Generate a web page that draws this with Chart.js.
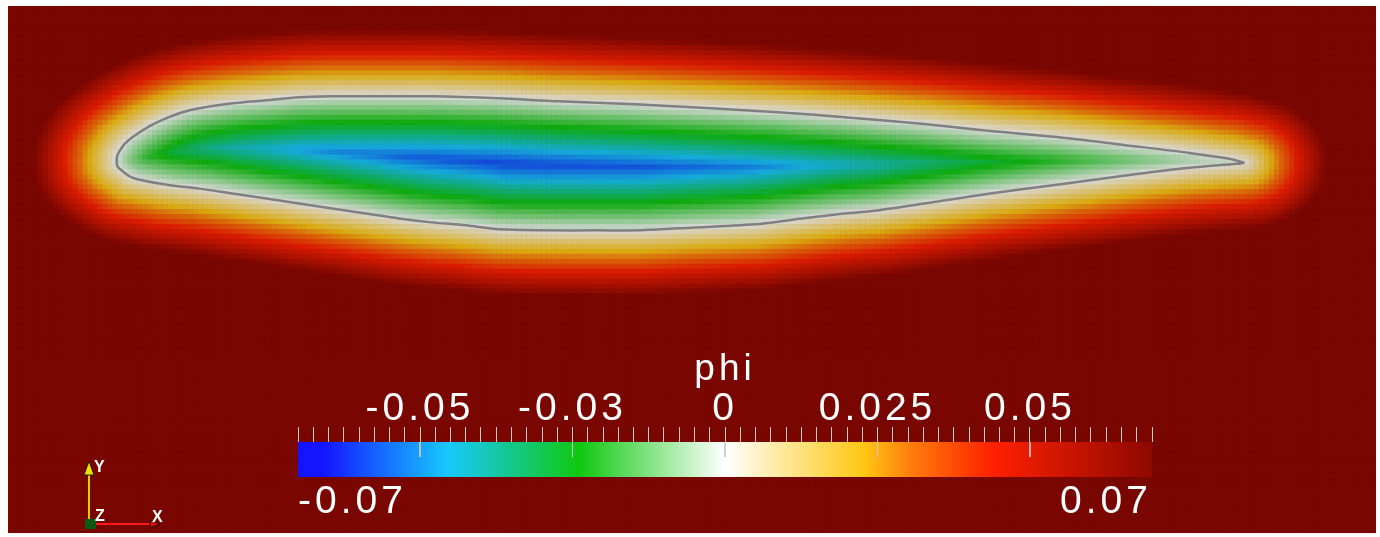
<!DOCTYPE html>
<html>
<head>
<meta charset="utf-8">
<script src="https://cdn.jsdelivr.net/npm/chart.js@4.4.0/dist/chart.umd.min.js"></script>
<style>
  html, body { margin: 0; padding: 0; background: #fff; overflow: hidden; }
  #wrap { position: relative; width: 1380px; height: 537px; }
  #field { position: absolute; left: 0; top: 0; }
  #bar { position: absolute; left: 248px; top: 330px; }
</style>
</head>
<body>
<div id="wrap">
  <canvas id="field" width="1380" height="537"></canvas>
  <canvas id="bar" width="954" height="207"></canvas>
</div>
<script>
// airfoil outline, leading edge -> trailing edge (chord along x)
const upperX = [0, 0.0005, 0.003, 0.008, 0.016, 0.033, 0.05, 0.066, 0.083, 0.116, 0.15, 0.183, 0.216, 0.25, 0.316, 0.383, 0.443, 0.52, 0.596, 0.663, 0.73, 0.81, 0.876, 0.943, 1.01, 1.076, 1.116, 1.131];
const upperY = [0.001, 0.006, 0.011, 0.018, 0.025, 0.036, 0.044, 0.05, 0.054, 0.059, 0.062, 0.065, 0.066, 0.066, 0.066, 0.064, 0.061, 0.058, 0.054, 0.05, 0.045, 0.038, 0.031, 0.025, 0.017, 0.009, 0.003, -0.001];
const lowerX = [0, 0.0005, 0.003, 0.016, 0.05, 0.083, 0.116, 0.15, 0.183, 0.216, 0.25, 0.283, 0.316, 0.35, 0.383, 0.426, 0.483, 0.526, 0.563, 0.64, 0.68, 0.73, 0.763, 0.81, 0.876, 0.943, 1.01, 1.076, 1.123, 1.131];
const lowerY = [0.001, -0.004, -0.007, -0.016, -0.023, -0.027, -0.032, -0.037, -0.042, -0.047, -0.052, -0.057, -0.061, -0.064, -0.068, -0.069, -0.069, -0.069, -0.067, -0.063, -0.058, -0.052, -0.049, -0.042, -0.032, -0.023, -0.014, -0.006, -0.002, -0.001];

// colour map for phi
const mapValues = [-0.07, -0.066, -0.0455, -0.024, 0, 0.0225, 0.031, 0.044, 0.07];
const mapColors = ['#1414ff', '#1414ff', '#19c8ff', '#10c810', '#ffffff', '#ffc814', '#ff780c', '#ff2000', '#8e0800'];

// scalar bar labels
const barTicks = [-0.05, -0.025, 0, 0.025, 0.05];
const barTickLabels = ['-0.05', '-0.03', '0', '0.025', '0.05'];
const rangeLabels = ['-0.07', '0.07'];

const PHI_MIN = -0.07, PHI_MAX = 0.07;
const MINOR_STEP = 0.0025;
const X_MIN = -0.109, X_MAX = 1.263, Y_MIN = -0.374, Y_MAX = 0.157;
const CELL = 0.005;
const SHADE = 0.85;          // surface lighting
const IN_SCALE = 0.9, OUT_SCALE = 1.05;
const DIST_WX = 0.8;         // the level set spreads wider along the chord

// closed contour starting and ending at the trailing edge
const outline = upperX.map((x, i) => ({ x, y: upperY[i] })).reverse()
  .concat(lowerX.map((x, i) => ({ x, y: lowerY[i] })).slice(1));
const scaledOutline = outline.map(p => ({ x: p.x * DIST_WX, y: p.y }));

const mapRgb = mapColors.map(h => [1, 3, 5].map(k => parseInt(h.slice(k, k + 2), 16)));

function phiColor(v, shade) {
  v = Math.max(PHI_MIN, Math.min(PHI_MAX, v));
  let i = 1;
  while (i < mapValues.length - 1 && v > mapValues[i]) i++;
  const t = (v - mapValues[i - 1]) / (mapValues[i] - mapValues[i - 1]);
  const a = mapRgb[i - 1], b = mapRgb[i];
  const c = a.map((ch, k) => Math.round((ch + (b[k] - ch) * t) * shade));
  return 'rgb(' + c.join(',') + ')';
}

function segDist(px, py, a, b) {
  const dx = b.x - a.x, dy = b.y - a.y;
  const len = dx * dx + dy * dy;
  let t = len ? ((px - a.x) * dx + (py - a.y) * dy) / len : 0;
  t = Math.max(0, Math.min(1, t));
  const ex = a.x + t * dx - px, ey = a.y + t * dy - py;
  return Math.sqrt(ex * ex + ey * ey);
}

function isInside(px, py) {
  let c = false;
  for (let i = 0, j = outline.length - 1; i < outline.length; j = i++) {
    const a = outline[i], b = outline[j];
    if ((a.y > py) !== (b.y > py) && px < (b.x - a.x) * (py - a.y) / (b.y - a.y) + a.x) c = !c;
  }
  return c;
}

function levelSet(px, py) {
  let d = Infinity;
  const sx = px * DIST_WX;
  for (let i = 1; i < scaledOutline.length; i++) d = Math.min(d, segDist(sx, py, scaledOutline[i - 1], scaledOutline[i]));
  return isInside(px, py) ? -d * IN_SCALE : d * OUT_SCALE;
}

// sample phi on a regular grid of cells
const cells = [], cellColors = [];
for (let yc = Y_MAX - CELL / 2; yc > Y_MIN - CELL / 2; yc -= CELL) {
  for (let xc = X_MIN + CELL / 2; xc < X_MAX + CELL / 2; xc += CELL) {
    cells.push({ x: xc, y: yc });
    cellColors.push(phiColor(levelSet(xc, yc), SHADE));
  }
}

const backdrop = {
  id: 'backdrop',
  beforeDraw(chart) {
    const { ctx, chartArea: a } = chart;
    ctx.save();
    ctx.fillStyle = '#ffffff';
    ctx.fillRect(0, 0, chart.width, chart.height);
    ctx.fillStyle = phiColor(PHI_MAX, SHADE);
    ctx.fillRect(a.left, a.top, a.right - a.left, a.bottom - a.top);
    ctx.restore();
  }
};

// orientation axes in the lower left corner
const triad = {
  id: 'triad',
  afterDraw(chart) {
    const c = chart.ctx;
    c.save();
    c.lineWidth = 2;
    c.strokeStyle = '#e8d000';
    c.beginPath(); c.moveTo(89, 521); c.lineTo(89, 474); c.stroke();
    c.fillStyle = '#f0dc10'; c.strokeStyle = '#202000'; c.lineWidth = 1;
    c.beginPath(); c.moveTo(89, 461); c.lineTo(84, 475); c.lineTo(94, 475); c.closePath(); c.fill(); c.stroke();
    c.lineWidth = 2; c.strokeStyle = '#ff1a1a';
    c.beginPath(); c.moveTo(95, 524); c.lineTo(151, 524); c.stroke();
    c.fillStyle = '#d01010'; c.strokeStyle = '#200000'; c.lineWidth = 1;
    c.beginPath(); c.moveTo(160, 524); c.lineTo(150, 520); c.lineTo(150, 528); c.closePath(); c.fill(); c.stroke();
    c.fillStyle = '#0c5a12';
    c.fillRect(85, 519, 11, 10);
    c.fillStyle = '#ffffff';
    c.font = 'bold 16px "Liberation Sans", Arial, sans-serif';
    c.textBaseline = 'top';
    c.fillText('Y', 94, 460);
    c.fillText('Z', 95, 509);
    c.fillText('X', 152, 510);
    c.restore();
  }
};

new Chart(document.getElementById('field'), {
  type: 'scatter',
  data: {
    datasets: [
      {
        label: 'phi = 0',
        data: outline,
        showLine: true,
        tension: 0.3,
        borderColor: '#808080',
        borderWidth: 2.5,
        pointRadius: 0,
        order: 0
      },
      {
        label: 'phi',
        data: cells,
        parsing: false,
        normalized: true,
        pointStyle: 'rect',
        pointRadius: 3.96,
        pointHoverRadius: 3.96,
        pointBorderWidth: 0,
        pointBackgroundColor: cellColors,
        order: 1
      }
    ]
  },
  options: {
    responsive: false,
    animation: false,
    events: [],
    layout: { padding: { left: 8, top: 6, right: 0, bottom: 0 } },
    scales: {
      x: { type: 'linear', display: false, min: X_MIN, max: X_MAX },
      y: { type: 'linear', display: false, min: Y_MIN, max: Y_MAX }
    },
    plugins: { legend: { display: false }, tooltip: { enabled: false } }
  },
  plugins: [backdrop, triad]
});

// scalar bar
const labelFont = { family: '"Liberation Sans", Arial, sans-serif', size: 39, lineHeight: 1 };
const majorTickMarks = [];
barTicks.forEach(v => { majorTickMarks.push({ x: v, y: 1 }, { x: v, y: 0.57 }, { x: v, y: null }); });

const spacing = {
  id: 'spacing',
  beforeDraw(chart) { chart.ctx.letterSpacing = '4px'; }
};

new Chart(document.getElementById('bar'), {
  type: 'scatter',
  data: {
    datasets: [
      {
        label: 'major ticks',
        data: majorTickMarks,
        showLine: true,
        spanGaps: false,
        borderColor: '#c8c8c8',
        borderWidth: 1,
        pointRadius: 0
      },
      {
        label: 'phi',
        data: [{ x: PHI_MIN, y: 1 }, { x: PHI_MAX, y: 1 }],
        showLine: true,
        borderColor: 'rgba(0,0,0,0)',
        borderWidth: 0,
        pointRadius: 0,
        fill: { value: 0 },
        backgroundColor(ctx) {
          const chart = ctx.chart, s = chart.scales.x;
          if (!chart.chartArea || !s) return 'rgba(0,0,0,0)';
          const x0 = s.getPixelForValue(PHI_MIN), x1 = s.getPixelForValue(PHI_MAX);
          const g = chart.ctx.createLinearGradient(x0, 0, x1, 0);
          mapValues.forEach((v, i) => g.addColorStop((v - PHI_MIN) / (PHI_MAX - PHI_MIN), mapColors[i]));
          return g;
        }
      }
    ]
  },
  options: {
    responsive: false,
    animation: false,
    events: [],
    layout: { padding: { left: 50, right: 50, top: 0, bottom: 0 } },
    scales: {
      x: {
        type: 'linear',
        position: 'top',
        min: PHI_MIN,
        max: PHI_MAX,
        afterBuildTicks(scale) {
          const n = Math.round((PHI_MAX - PHI_MIN) / MINOR_STEP);
          scale.ticks = [];
          for (let i = 0; i <= n; i++) scale.ticks.push({ value: PHI_MIN + i * MINOR_STEP });
        },
        afterFit(scale) { scale.height = 112; },
        ticks: {
          autoSkip: false,
          maxRotation: 0,
          color: '#ffffff',
          font: labelFont,
          padding: -2,
          callback(value) {
            const i = barTicks.findIndex(t => Math.abs(t - value) < 1e-9);
            return i >= 0 ? barTickLabels[i] : '';
          }
        },
        grid: { drawOnChartArea: false, tickLength: 15, color: '#c8c8c8', tickWidth: 1 },
        border: { display: false },
        title: {
          display: true,
          text: 'phi',
          color: '#ffffff',
          font: { family: '"Liberation Sans", Arial, sans-serif', size: 37, lineHeight: 1.2 },
          padding: { top: 18, bottom: 0 }
        }
      },
      xb: {
        type: 'linear',
        axis: 'x',
        position: 'bottom',
        min: PHI_MIN,
        max: PHI_MAX,
        afterBuildTicks(scale) { scale.ticks = [{ value: PHI_MIN }, { value: PHI_MAX }]; },
        afterFit(scale) { scale.height = 60; },
        ticks: {
          align: 'inner',
          autoSkip: false,
          maxRotation: 0,
          color: '#ffffff',
          font: labelFont,
          padding: 6,
          callback(value) { return value < 0 ? rangeLabels[0] : rangeLabels[1]; }
        },
        grid: { display: false, drawTicks: false },
        border: { display: false }
      },
      y: { type: 'linear', display: false, min: 0, max: 1 }
    },
    plugins: { legend: { display: false }, tooltip: { enabled: false } }
  },
  plugins: [spacing]
});
</script>
</body>
</html>
